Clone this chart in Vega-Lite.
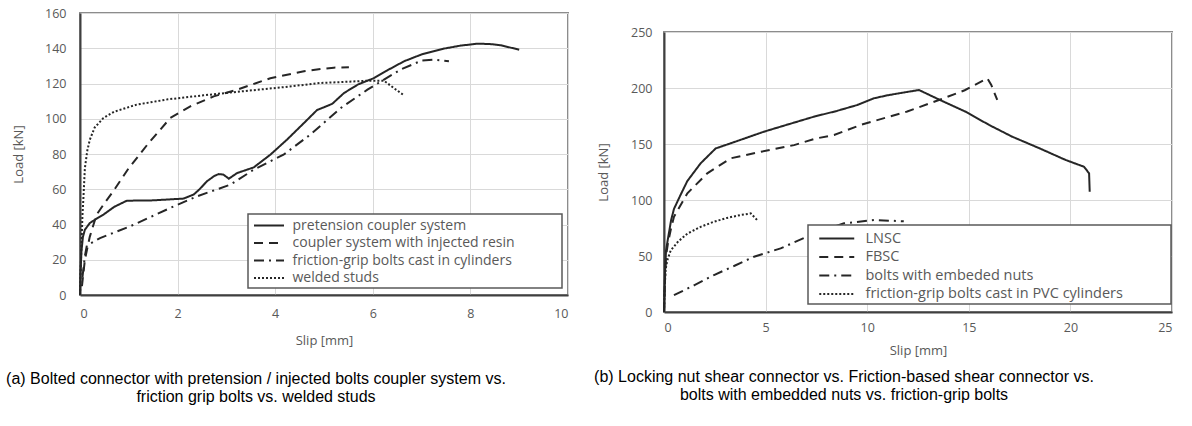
{
  "$schema": "https://vega.github.io/schema/vega-lite/v6.json",
  "padding": {"left": 5, "top": 6, "right": 5, "bottom": 5},
  "background": "white",
  "datasets": {
    "a": [
      {"s": "pretension coupler system", "x": 0, "y": 0},
      {"s": "pretension coupler system", "x": 0.01, "y": 12},
      {"s": "pretension coupler system", "x": 0.03, "y": 25},
      {"s": "pretension coupler system", "x": 0.06, "y": 33},
      {"s": "pretension coupler system", "x": 0.1, "y": 37},
      {"s": "pretension coupler system", "x": 0.2, "y": 40.8},
      {"s": "pretension coupler system", "x": 0.35, "y": 43.5},
      {"s": "pretension coupler system", "x": 0.48, "y": 45.6},
      {"s": "pretension coupler system", "x": 0.7, "y": 50},
      {"s": "pretension coupler system", "x": 0.96, "y": 53.5},
      {"s": "pretension coupler system", "x": 1.5, "y": 53.7},
      {"s": "pretension coupler system", "x": 2.12, "y": 54.7},
      {"s": "pretension coupler system", "x": 2.33, "y": 57},
      {"s": "pretension coupler system", "x": 2.45, "y": 60},
      {"s": "pretension coupler system", "x": 2.6, "y": 64.5},
      {"s": "pretension coupler system", "x": 2.75, "y": 67.5},
      {"s": "pretension coupler system", "x": 2.84, "y": 68.6},
      {"s": "pretension coupler system", "x": 2.94, "y": 68.3},
      {"s": "pretension coupler system", "x": 3.05, "y": 66},
      {"s": "pretension coupler system", "x": 3.22, "y": 69.2},
      {"s": "pretension coupler system", "x": 3.56, "y": 72.4},
      {"s": "pretension coupler system", "x": 3.9, "y": 79.6},
      {"s": "pretension coupler system", "x": 4.24, "y": 88.1},
      {"s": "pretension coupler system", "x": 4.59, "y": 97.6},
      {"s": "pretension coupler system", "x": 4.86, "y": 105},
      {"s": "pretension coupler system", "x": 5.0, "y": 106.5},
      {"s": "pretension coupler system", "x": 5.17, "y": 108.5},
      {"s": "pretension coupler system", "x": 5.41, "y": 114.6},
      {"s": "pretension coupler system", "x": 5.7, "y": 119.5},
      {"s": "pretension coupler system", "x": 6.02, "y": 123},
      {"s": "pretension coupler system", "x": 6.3, "y": 127.5},
      {"s": "pretension coupler system", "x": 6.64, "y": 132.6},
      {"s": "pretension coupler system", "x": 7.0, "y": 136.5},
      {"s": "pretension coupler system", "x": 7.46, "y": 139.8},
      {"s": "pretension coupler system", "x": 7.8, "y": 141.5},
      {"s": "pretension coupler system", "x": 8.15, "y": 142.6},
      {"s": "pretension coupler system", "x": 8.4, "y": 142.4},
      {"s": "pretension coupler system", "x": 8.62, "y": 141.7},
      {"s": "pretension coupler system", "x": 9.0, "y": 139.2},
      {"s": "coupler system  with injected resin", "x": 0.04, "y": 5},
      {"s": "coupler system  with injected resin", "x": 0.1, "y": 20},
      {"s": "coupler system  with injected resin", "x": 0.2, "y": 33},
      {"s": "coupler system  with injected resin", "x": 0.34, "y": 45.6},
      {"s": "coupler system  with injected resin", "x": 0.5, "y": 52},
      {"s": "coupler system  with injected resin", "x": 0.68, "y": 58.8},
      {"s": "coupler system  with injected resin", "x": 1.0, "y": 72},
      {"s": "coupler system  with injected resin", "x": 1.4, "y": 86},
      {"s": "coupler system  with injected resin", "x": 1.85, "y": 100.4},
      {"s": "coupler system  with injected resin", "x": 2.26, "y": 107},
      {"s": "coupler system  with injected resin", "x": 2.74, "y": 112.7},
      {"s": "coupler system  with injected resin", "x": 3.22, "y": 116.5},
      {"s": "coupler system  with injected resin", "x": 3.9, "y": 123},
      {"s": "coupler system  with injected resin", "x": 4.59, "y": 127},
      {"s": "coupler system  with injected resin", "x": 4.93, "y": 128.2},
      {"s": "coupler system  with injected resin", "x": 5.2, "y": 129},
      {"s": "coupler system  with injected resin", "x": 5.51, "y": 129.2},
      {"s": "friction-grip bolts cast in cylinders", "x": 0.05, "y": 10},
      {"s": "friction-grip bolts cast in cylinders", "x": 0.1, "y": 22},
      {"s": "friction-grip bolts cast in cylinders", "x": 0.14, "y": 28},
      {"s": "friction-grip bolts cast in cylinders", "x": 0.41, "y": 32.3},
      {"s": "friction-grip bolts cast in cylinders", "x": 1.03, "y": 39},
      {"s": "friction-grip bolts cast in cylinders", "x": 1.85, "y": 49.4},
      {"s": "friction-grip bolts cast in cylinders", "x": 2.4, "y": 56},
      {"s": "friction-grip bolts cast in cylinders", "x": 3.08, "y": 62.6},
      {"s": "friction-grip bolts cast in cylinders", "x": 3.56, "y": 71.1},
      {"s": "friction-grip bolts cast in cylinders", "x": 4.17, "y": 79.6},
      {"s": "friction-grip bolts cast in cylinders", "x": 4.72, "y": 91},
      {"s": "friction-grip bolts cast in cylinders", "x": 5.34, "y": 106},
      {"s": "friction-grip bolts cast in cylinders", "x": 5.89, "y": 116.5},
      {"s": "friction-grip bolts cast in cylinders", "x": 6.57, "y": 127.9},
      {"s": "friction-grip bolts cast in cylinders", "x": 7.0, "y": 133},
      {"s": "friction-grip bolts cast in cylinders", "x": 7.25, "y": 133.5},
      {"s": "friction-grip bolts cast in cylinders", "x": 7.56, "y": 132.6},
      {"s": "welded studs", "x": 0, "y": 0},
      {"s": "welded studs", "x": 0.02, "y": 20},
      {"s": "welded studs", "x": 0.05, "y": 45},
      {"s": "welded studs", "x": 0.07, "y": 55},
      {"s": "welded studs", "x": 0.1, "y": 72},
      {"s": "welded studs", "x": 0.15, "y": 82},
      {"s": "welded studs", "x": 0.2, "y": 88},
      {"s": "welded studs", "x": 0.3, "y": 95},
      {"s": "welded studs", "x": 0.48, "y": 100.4},
      {"s": "welded studs", "x": 0.7, "y": 104},
      {"s": "welded studs", "x": 1.16, "y": 108},
      {"s": "welded studs", "x": 1.8, "y": 111},
      {"s": "welded studs", "x": 2.53, "y": 113.3},
      {"s": "welded studs", "x": 3.3, "y": 115.5},
      {"s": "welded studs", "x": 4.2, "y": 118},
      {"s": "welded studs", "x": 4.93, "y": 120.3},
      {"s": "welded studs", "x": 5.5, "y": 121},
      {"s": "welded studs", "x": 5.89, "y": 121.6},
      {"s": "welded studs", "x": 6.23, "y": 121.6},
      {"s": "welded studs", "x": 6.43, "y": 117.4},
      {"s": "welded studs", "x": 6.64, "y": 113.3}
    ],
    "b": [
      {"s": "LNSC", "x": 0, "y": 0},
      {"s": "LNSC", "x": 0.05, "y": 35},
      {"s": "LNSC", "x": 0.1, "y": 55},
      {"s": "LNSC", "x": 0.2, "y": 66},
      {"s": "LNSC", "x": 0.35, "y": 82},
      {"s": "LNSC", "x": 0.49, "y": 92},
      {"s": "LNSC", "x": 0.8, "y": 104},
      {"s": "LNSC", "x": 1.15, "y": 117},
      {"s": "LNSC", "x": 1.8, "y": 132.7},
      {"s": "LNSC", "x": 2.54, "y": 146},
      {"s": "LNSC", "x": 3.5, "y": 152},
      {"s": "LNSC", "x": 4.92, "y": 161},
      {"s": "LNSC", "x": 6.2, "y": 168},
      {"s": "LNSC", "x": 7.38, "y": 174.4},
      {"s": "LNSC", "x": 8.5, "y": 179.5},
      {"s": "LNSC", "x": 9.51, "y": 184.8},
      {"s": "LNSC", "x": 10.33, "y": 190.8},
      {"s": "LNSC", "x": 11.0, "y": 193.5},
      {"s": "LNSC", "x": 11.97, "y": 196.5},
      {"s": "LNSC", "x": 12.55, "y": 198.2},
      {"s": "LNSC", "x": 13.5, "y": 190},
      {"s": "LNSC", "x": 14.85, "y": 178.8},
      {"s": "LNSC", "x": 16.0, "y": 167},
      {"s": "LNSC", "x": 17.14, "y": 156.5},
      {"s": "LNSC", "x": 18.5, "y": 146},
      {"s": "LNSC", "x": 19.77, "y": 135.7},
      {"s": "LNSC", "x": 20.67, "y": 129.7},
      {"s": "LNSC", "x": 20.92, "y": 123.8},
      {"s": "LNSC", "x": 20.95, "y": 107.4},
      {"s": "FBSC", "x": 0, "y": 0},
      {"s": "FBSC", "x": 0.05, "y": 30},
      {"s": "FBSC", "x": 0.1, "y": 50},
      {"s": "FBSC", "x": 0.2, "y": 62},
      {"s": "FBSC", "x": 0.35, "y": 75},
      {"s": "FBSC", "x": 0.49, "y": 85},
      {"s": "FBSC", "x": 1.15, "y": 106},
      {"s": "FBSC", "x": 2.13, "y": 123.8},
      {"s": "FBSC", "x": 3.28, "y": 137.2},
      {"s": "FBSC", "x": 4.76, "y": 143},
      {"s": "FBSC", "x": 6.4, "y": 149},
      {"s": "FBSC", "x": 7.5, "y": 155},
      {"s": "FBSC", "x": 8.37, "y": 158},
      {"s": "FBSC", "x": 9.68, "y": 167},
      {"s": "FBSC", "x": 11.0, "y": 174},
      {"s": "FBSC", "x": 11.97, "y": 179},
      {"s": "FBSC", "x": 13.53, "y": 189.3},
      {"s": "FBSC", "x": 14.8, "y": 198},
      {"s": "FBSC", "x": 15.91, "y": 208.6},
      {"s": "FBSC", "x": 16.1, "y": 203},
      {"s": "FBSC", "x": 16.4, "y": 189.3},
      {"s": "bolts with embeded nuts", "x": 0.49, "y": 15},
      {"s": "bolts with embeded nuts", "x": 1.5, "y": 24},
      {"s": "bolts with embeded nuts", "x": 2.46, "y": 33},
      {"s": "bolts with embeded nuts", "x": 3.5, "y": 41.5},
      {"s": "bolts with embeded nuts", "x": 4.43, "y": 49.4},
      {"s": "bolts with embeded nuts", "x": 5.74, "y": 56.8},
      {"s": "bolts with embeded nuts", "x": 7.22, "y": 68.75},
      {"s": "bolts with embeded nuts", "x": 8.86, "y": 79.2},
      {"s": "bolts with embeded nuts", "x": 10.33, "y": 82.1},
      {"s": "bolts with embeded nuts", "x": 11.8, "y": 81},
      {"s": "friction-grip bolts cast in PVC cylinders", "x": 0, "y": 0},
      {"s": "friction-grip bolts cast in PVC cylinders", "x": 0.03, "y": 20},
      {"s": "friction-grip bolts cast in PVC cylinders", "x": 0.08, "y": 38},
      {"s": "friction-grip bolts cast in PVC cylinders", "x": 0.16, "y": 46},
      {"s": "friction-grip bolts cast in PVC cylinders", "x": 0.33, "y": 55},
      {"s": "friction-grip bolts cast in PVC cylinders", "x": 0.7, "y": 63},
      {"s": "friction-grip bolts cast in PVC cylinders", "x": 1.15, "y": 70},
      {"s": "friction-grip bolts cast in PVC cylinders", "x": 1.8, "y": 76},
      {"s": "friction-grip bolts cast in PVC cylinders", "x": 2.46, "y": 80.6},
      {"s": "friction-grip bolts cast in PVC cylinders", "x": 3.1, "y": 84},
      {"s": "friction-grip bolts cast in PVC cylinders", "x": 3.77, "y": 86.6},
      {"s": "friction-grip bolts cast in PVC cylinders", "x": 4.27, "y": 88},
      {"s": "friction-grip bolts cast in PVC cylinders", "x": 4.59, "y": 82}
    ]
  },
  "spacing": 24,
  "hconcat": [
    {
      "width": 488,
      "height": 282,
      "data": {"name": "a"},
      "title": {
        "text": ["(a) Bolted connector with pretension / injected bolts coupler system vs.", "friction grip bolts vs. welded studs"],
        "orient": "bottom", "anchor": "middle", "frame": "group", "dx": -68, "offset": 23
      },
      "mark": {"type": "line", "stroke": "#262626", "strokeWidth": 2},
      "encoding": {
        "x": {"field": "x", "type": "quantitative", "scale": {"domain": [0, 10]},
              "axis": {"values": [0, 2, 4, 6, 8, 10], "title": "Slip [mm]", "labelPadding": 12, "titlePadding": 15}},
        "y": {"field": "y", "type": "quantitative", "scale": {"domain": [0, 160]},
              "axis": {"values": [0, 20, 40, 60, 80, 100, 120, 140, 160], "title": "Load [kN]", "labelPadding": 14, "titlePadding": 19}},
        "strokeDash": {
          "field": "s", "type": "nominal",
          "scale": {"domain": ["pretension coupler system", "coupler system  with injected resin", "friction-grip bolts cast in cylinders", "welded studs"],
                    "range": [[1, 0], [9, 6], [10, 5, 2, 5], [2, 2]]},
          "legend": {"orient": "none", "legendX": 168, "legendY": 201, "title": null,
                     "symbolType": "M-2,0H2", "symbolSize": 225, "symbolStrokeWidth": 2, "symbolStrokeColor": "#262626",
                     "symbolOffset": 9.5, "labelFontSize": 14, "rowPadding": 1.5, "padding": 3, "labelOffset": 15,
                     "labelLimit": 600,
                     "labelExpr": "datum.label + '\u2800\u2800\u2800\u2800'"}
        }
      }
    },
    {
      "spacing": 0,
      "resolve": {"scale": {"strokeDash": "independent"}, "legend": {"strokeDash": "independent"}},
      "vconcat": [
        {
          "width": 508,
          "height": 12,
          "data": {"values": []},
          "view": {"stroke": null},
          "mark": {"type": "rule"},
          "encoding": {}
        },
        {
          "width": 508,
          "height": 280,
          "data": {"name": "b"},
          "title": {
            "text": ["(b) Locking nut shear connector vs. Friction-based shear connector vs.", "bolts with embedded nuts vs. friction-grip bolts"],
            "orient": "bottom", "anchor": "middle", "frame": "group", "dx": -74, "offset": 11
          },
          "mark": {"type": "line", "stroke": "#262626", "strokeWidth": 2},
          "encoding": {
            "x": {"field": "x", "type": "quantitative", "scale": {"domain": [0, 25]},
                  "axis": {"values": [0, 5, 10, 15, 20, 25], "title": "Slip [mm]", "labelPadding": 9, "titlePadding": 11}},
            "y": {"field": "y", "type": "quantitative", "scale": {"domain": [0, 250]},
                  "axis": {"values": [0, 50, 100, 150, 200, 250], "title": "Load [kN]", "labelPadding": 12, "titlePadding": 20}},
            "strokeDash": {
              "field": "s", "type": "nominal",
              "scale": {"domain": ["LNSC", "FBSC", "bolts with embeded nuts", "friction-grip bolts cast in PVC cylinders"],
                        "range": [[1, 0], [9, 6], [10, 5, 2, 5], [2, 2]]},
              "legend": {"orient": "none", "legendX": 144, "legendY": 193, "title": null,
                         "symbolType": "M-2,0H2", "symbolSize": 306, "symbolStrokeWidth": 2, "symbolStrokeColor": "#262626",
                         "symbolOffset": 15.25, "labelFontSize": 14.5, "rowPadding": 1.5, "padding": 3.5, "labelOffset": 18.75,
                         "labelLimit": 600,
                         "labelExpr": "datum.label + '\u2800\u2800\u2800\u2800'"}
            }
          }
        }
      ]
    }
  ],
  "resolve": {"scale": {"strokeDash": "independent", "x": "independent", "y": "independent"}, "legend": {"strokeDash": "independent"}},
  "config": {
    "font": "Open Sans",
    "view": {"stroke": "#8c8c8c", "strokeWidth": 2},
    "axis": {
      "labelFont": "Open Sans", "labelFontSize": 12.5, "labelColor": "#595959",
      "titleFont": "Open Sans", "titleFontSize": 13, "titleColor": "#595959", "titleFontWeight": "normal",
      "ticks": false, "gridColor": "#d9d9d9", "gridWidth": 1,
      "domainColor": "#404040", "domainWidth": 2
    },
    "legend": {
      "labelFont": "Open Sans", "labelColor": "#595959",
      "fillColor": "white", "strokeColor": "#595959", "strokeWidth": 1.5
    },
    "title": {"font": "Liberation Sans", "fontSize": 16, "fontWeight": "normal", "color": "black", "lineHeight": 18}
  }
}
